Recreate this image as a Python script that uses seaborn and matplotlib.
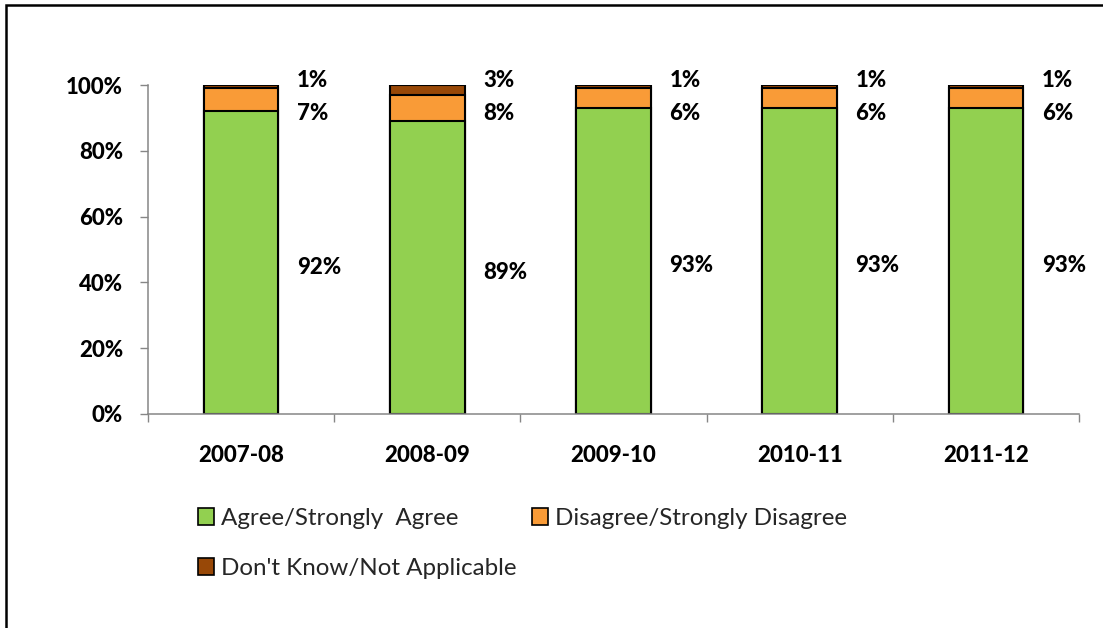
import matplotlib
matplotlib.use("Agg")
import matplotlib.pyplot as plt
from matplotlib.patches import Patch, Rectangle
from matplotlib.ticker import FixedLocator, FuncFormatter
import numpy as np
import pandas as pd
import seaborn as sns

# Survey responses by school year (percent of respondents)
years = ["2007-08", "2008-09", "2009-10", "2010-11", "2011-12"]
agree = [92, 89, 93, 93, 93]
disagree = [7, 8, 6, 6, 6]
dont_know = [1, 3, 1, 1, 1]

series_names = ["Agree/Strongly  Agree", "Disagree/Strongly Disagree",
                "Don't Know/Not Applicable"]
colors = ["#92D050", "#F99B37", "#984807"]

sns.set_theme(style="white")
plt.rcParams["font.family"] = ["Lato", "DejaVu Sans"]

W, H = 1103, 628
fig = plt.figure(figsize=(W / 100, H / 100), dpi=100)
ax = fig.add_axes([148 / W, 1 - 414 / H, (1079 - 148) / W, (414 - 85) / H])

df = pd.DataFrame({"year": years, "agree": agree,
                   "disagree": disagree, "dont_know": dont_know})
df["top_mid"] = df["agree"] + df["disagree"]
df["top_all"] = df["top_mid"] + df["dont_know"]

# Stacked bars drawn back to front as cumulative totals
for col, color in zip(["top_all", "top_mid", "agree"], colors[::-1]):
    sns.barplot(data=df, x="year", y=col, order=years, color=color,
                width=0.4, edgecolor="black", linewidth=1.5,
                saturation=1, ax=ax)

ax.set_ylim(0, 100)
ax.set_xlim(-0.5, len(years) - 0.5)
ax.set_xlabel("")
ax.set_ylabel("")

BOLD = 900

ax.yaxis.set_major_locator(FixedLocator(np.arange(0, 101, 20)))
ax.yaxis.set_major_formatter(FuncFormatter(lambda v, p: f"{v:.0f}%"))
ax.tick_params(axis="y", which="major", direction="out", length=6,
               width=1, color="#868686", pad=12, labelsize=16,
               left=True)
ax.tick_params(axis="x", which="major", length=0, pad=22, labelsize=16)
ax.xaxis.set_minor_locator(FixedLocator(np.arange(-0.5, len(years), 1)))
ax.tick_params(axis="x", which="minor", direction="out", length=6,
               width=1, color="#868686", bottom=True)
for lab in ax.get_xticklabels() + ax.get_yticklabels():
    lab.set_fontweight(BOLD)
    lab.set_color("black")

for side in ["top", "right"]:
    ax.spines[side].set_visible(False)
for side in ["left", "bottom"]:
    ax.spines[side].set_color("#868686")
    ax.spines[side].set_linewidth(1.1)

# Value labels to the right of each bar
label_dx = 0.3
for i in range(len(years)):
    kw = dict(ha="left", va="center", fontsize=16, fontweight=BOLD,
              color="black")
    ax.text(i + label_dx, agree[i] / 2 - 1.5, f"{agree[i]}%", **kw)
    ax.text(i + label_dx, 91.3, f"{disagree[i]}%", **kw)
    ax.text(i + label_dx, 101.5, f"{dont_know[i]}%", clip_on=False, **kw)

handles = [Patch(facecolor=c, edgecolor="black", linewidth=1.2)
           for c in colors]
order = [0, 2, 1]
fig.legend([handles[k] for k in order], [series_names[k] for k in order],
           loc="upper left", bbox_to_anchor=(198 / W, 1 - 508 / H),
           ncol=2, frameon=False, fontsize=17.4, handlelength=0.65,
           handleheight=0.65, handletextpad=0.3, columnspacing=0.65,
           labelspacing=1.2, borderaxespad=0, borderpad=0)

# Outer chart frame
fig.add_artist(Rectangle((6 / W, -0.2), 1.5, 1.2 - 5 / H,
                         transform=fig.transFigure, fill=False,
                         edgecolor="black", linewidth=1.8))

fig.savefig("out.png", dpi=100)
